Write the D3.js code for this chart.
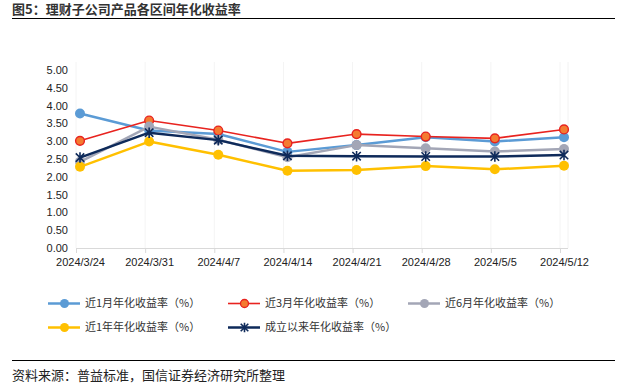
<!DOCTYPE html>
<html><head><meta charset="utf-8">
<script src="https://cdn.jsdelivr.net/npm/d3@7"></script>
<style>
body{margin:0;background:#fff;}
text{font-family:"Liberation Sans","Noto Sans CJK SC",sans-serif;}
.cn{font-family:"Noto Sans CJK SC",sans-serif;}
</style></head>
<body><svg id="c" width="623" height="386"></svg>
<script>
const categories = ["2024/3/24","2024/3/31","2024/4/7","2024/4/14","2024/4/21","2024/4/28","2024/5/5","2024/5/12"];
const m1  = [3.78,3.30,3.20,2.70,2.89,3.11,2.99,3.11];
const m3  = [3.01,3.58,3.30,2.94,3.20,3.13,3.08,3.33];
const m6  = [2.42,3.41,3.04,2.55,2.89,2.80,2.71,2.78];
const y1  = [2.28,2.99,2.62,2.17,2.19,2.30,2.21,2.31];
const inc = [2.54,3.24,3.03,2.59,2.58,2.57,2.57,2.61];
const yTicks = [0,0.5,1,1.5,2,2.5,3,3.5,4,4.5,5];
const seriesNames = ["近1月年化收益率（%）","近3月年化收益率（%）","近6月年化收益率（%）","近1年年化收益率（%）","成立以来年化收益率（%）"];

const series = [
  {name:seriesNames[0], data:m1, line:"#5B9BD5", fill:"#5B9BD5", stroke:"#5B9BD5", w:2.5, mk:"circle"},
  {name:seriesNames[1], data:m3, line:"#E8231F", fill:"#F47B30", stroke:"#E8231F", w:1.6, mk:"circle"},
  {name:seriesNames[2], data:m6, line:"#A3A6B6", fill:"#A3A6B6", stroke:"#A3A6B6", w:2.5, mk:"circle"},
  {name:seriesNames[3], data:y1, line:"#FFC000", fill:"#FFC000", stroke:"#FFC000", w:2.5, mk:"circle"},
  {name:seriesNames[4], data:inc, line:"#0E2A5A", fill:"none", stroke:"#0E2A5A", w:2.5, mk:"star"}
];

const svg = d3.select("#c");
const x = d3.scalePoint().domain(categories).range([80,564]);
const y = d3.scaleLinear().domain([0,5]).range([248,70]);

// title
svg.append("text").attr("class","cn").attr("x",12).attr("y",14).attr("font-size",13).attr("font-weight","bold").attr("fill","#333").text("图5：理财子公司产品各区间年化收益率");
svg.append("line").attr("x1",12).attr("x2",615).attr("y1",18.5).attr("y2",18.5).attr("stroke","#000").attr("stroke-width",1);

// faint vertical grid
svg.append("g").selectAll("line").data(categories).join("line")
  .attr("x1",d=>x(d)-4).attr("x2",d=>x(d)-4).attr("y1",62).attr("y2",248)
  .attr("stroke","#f4f4f4").attr("stroke-width",1);
svg.append("line").attr("x1",568).attr("x2",568).attr("y1",62).attr("y2",248).attr("stroke","#f2f2f2");

// y axis
const ya = svg.append("g").attr("transform","translate(68,0)").call(d3.axisLeft(y).tickValues(yTicks).tickFormat(d3.format(".2f")).tickSize(0).tickPadding(0));
ya.select(".domain").remove();
ya.selectAll("text").attr("font-size",11).attr("fill","#222").attr("font-family","Liberation Sans, sans-serif");

// x axis
const xa = svg.append("g").attr("transform","translate(0,248)").call(d3.axisBottom(x).tickSize(0).tickPadding(10));
xa.select(".domain").attr("d","M76,0.5H568").attr("stroke","#d9d9d9");
xa.selectAll("text").attr("font-size",11).attr("fill","#222").attr("font-family","Liberation Sans, sans-serif");
xa.selectAll(".tick").append("line").attr("x1",-4).attr("x2",-4).attr("y1",0).attr("y2",5).attr("stroke","#d9d9d9");

function star(g, cx, cy, r, color){
  const p = d3.path();
  p.moveTo(cx-r,cy-r); p.lineTo(cx+r,cy+r);
  p.moveTo(cx-r,cy+r); p.lineTo(cx+r,cy-r);
  p.moveTo(cx,cy-r*1.25); p.lineTo(cx,cy+r*1.25);
  g.append("path").attr("d",p.toString()).attr("stroke",color).attr("stroke-width",1.6).attr("fill","none");
}

const lineGen = d3.line().x((d,i)=>x(categories[i])).y(d=>y(d));
series.forEach(s=>{
  const g = svg.append("g");
  g.append("path").datum(s.data).attr("d",lineGen).attr("fill","none").attr("stroke",s.line).attr("stroke-width",s.w).attr("stroke-linejoin","round");
  s.data.forEach((v,i)=>{
    if(s.mk==="circle"){
      g.append("circle").attr("cx",x(categories[i])).attr("cy",y(v)).attr("r",s.stroke===s.fill?5:4.4)
        .attr("fill",s.fill).attr("stroke",s.stroke).attr("stroke-width",s.stroke===s.fill?0:1.4);
    } else star(g, x(categories[i]), y(v), 4.2, s.stroke);
  });
});

// legend
const legPos = [[48,303.5],[228,303.5],[408,303.5],[48,327.5],[228,327.5]];
series.forEach((s,i)=>{
  const [lx,ly] = legPos[i];
  const g = svg.append("g");
  g.append("line").attr("x1",lx).attr("x2",lx+32).attr("y1",ly).attr("y2",ly).attr("stroke",s.line).attr("stroke-width",s.w);
  if(s.mk==="circle") g.append("circle").attr("cx",lx+16.5).attr("cy",ly).attr("r",s.stroke===s.fill?4.5:4).attr("fill",s.fill).attr("stroke",s.stroke).attr("stroke-width",s.stroke===s.fill?0:1.3);
  else star(g,lx+16.5,ly,3.8,s.stroke);
  g.append("text").attr("class","cn").attr("x",lx+37).attr("y",ly).attr("dy","0.35em").attr("font-size",11).attr("fill","#333").text(s.name);
});

// footer
svg.append("line").attr("x1",12).attr("x2",615).attr("y1",360.5).attr("y2",360.5).attr("stroke","#000").attr("stroke-width",1);
svg.append("text").attr("class","cn").attr("x",12).attr("y",375).attr("dy","0.35em").attr("font-size",13).attr("fill","#222").text("资料来源：普益标准，国信证券经济研究所整理");
</script></body></html>
